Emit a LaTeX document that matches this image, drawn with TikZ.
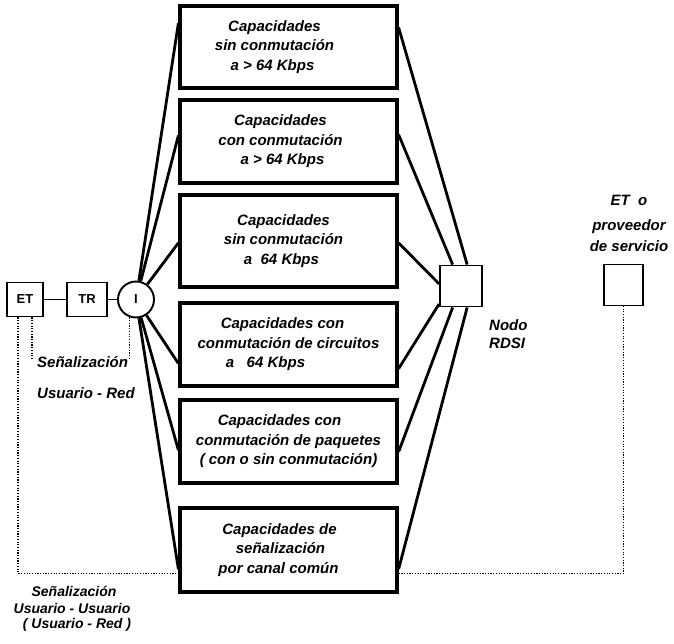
\documentclass[tikz,border=0pt]{standalone}
\usepackage{fontspec}
\setmainfont{Liberation Sans}
\usetikzlibrary{calc}
\newcommand{\lsh}[1]{\rule{#1}{0pt}}
\begin{document}
\begin{tikzpicture}[x=1pt,y=-1pt,
  capbox/.style={draw, line width=3.2pt, minimum width=217pt, align=center, inner sep=0pt,
    font=\fontsize{15}{19.5}\selectfont\bfseries\itshape},
  smallbox/.style={draw, line width=1.9pt, inner sep=0pt, font=\fontsize{13}{15}\selectfont\bfseries},
  fan/.style={line width=2.8pt},
  link/.style={line width=1.8pt},
  sig/.style={line width=1.3pt, dash pattern=on 1.2pt off 1.5pt},
  lbl/.style={font=\fontsize{15}{18}\selectfont\bfseries\itshape, inner sep=0pt},
  lblsm/.style={font=\fontsize{14}{17}\selectfont\bfseries\itshape, inner sep=0pt}
]
\useasboundingbox (0,0) rectangle (674,644);
\fill[white] (0,0) rectangle (674,644);

% capability boxes
\node[capbox, minimum height=82pt] (b1) at (288.5,47) {Capacidades\lsh{28pt}\\sin conmutación\lsh{28pt}\\a > 64 Kbps\lsh{32pt}};
\node[capbox, minimum height=83pt] (b2) at (288.5,141.5) {Capacidades\lsh{16pt}\\con conmutación\lsh{16pt}\\a > 64 Kbps\lsh{12pt}};
\node[capbox, minimum height=92pt] (b3) at (288.5,241) {Capacidades\lsh{10pt}\\sin conmutación\lsh{10pt}\\a\ \ 64 Kbps\lsh{14pt}};
\node[capbox, minimum height=83pt] (b4) at (288.5,344.5) {Capacidades con\lsh{12pt}\\conmutación de circuitos\\a\ \ \ 64 Kbps\lsh{46pt}};
\node[capbox, minimum height=83pt] (b5) at (288.5,441.5) {Capacidades con\lsh{18pt}\\conmutación de paquetes\\( con o sin conmutación)};
\node[capbox, minimum height=84pt] (b6) at (288.5,550) {Capacidades de\lsh{18pt}\\señalización\lsh{16pt}\\por canal común\lsh{20pt}};

% small elements
\node[smallbox, minimum width=36pt, minimum height=34pt] (ET) at (25,299.5) {ET};
\node[smallbox, minimum width=40pt, minimum height=34pt] (TR) at (87,299.5) {TR};
\node[smallbox, circle, minimum size=36pt] (I) at (136,299.5) {I};
\node[smallbox, minimum width=42pt, minimum height=41pt] (N) at (461,286) {};
\node[smallbox, minimum width=39pt, minimum height=41pt] (R) at (623.5,285) {};

% solid links
\draw[link] (ET) -- (TR);
\draw[link] (TR) -- (I);
\draw[link] ($(N.east)+(0,5)$) -- ($(N.east)+(0,5)$ -| R.west);

% fan from I
\draw[fan] (I) -- ($(b1.north west)!0.22!(b1.south west)$);
\draw[fan] (I) -- ($(b2.north west)!0.43!(b2.south west)$);
\draw[fan] (I) -- ($(b3.north west)!0.52!(b3.south west)$);
\draw[fan] (I) -- ($(b4.north west)!0.72!(b4.south west)$);
\draw[fan] (I) -- ($(b5.north west)!0.60!(b5.south west)$);
\draw[fan] (I) -- ($(b6.north west)!0.72!(b6.south west)$);

% fan to node RDSI
\draw[fan] ($(b1.north east)!0.27!(b1.south east)$) -- ($(N.north west)!0.64!(N.north east)$);
\draw[fan] ($(b2.north east)!0.42!(b2.south east)$) -- ($(N.north west)!0.31!(N.north east)$);
\draw[fan] ($(b3.north east)!0.52!(b3.south east)$) -- ($(N.north west)!0.45!(N.south west)$);
\draw[fan] ($(b4.north east)!0.78!(b4.south east)$) -- ($(N.north west)!0.92!(N.south west)$);
\draw[fan] ($(b5.north east)!0.62!(b5.south east)$) -- ($(N.south west)!0.31!(N.south east)$);
\draw[fan] ($(b6.north east)!0.72!(b6.south east)$) -- ($(N.south west)!0.64!(N.south east)$);

% labels
\node[lbl, anchor=west] (l1) at (37,362) {Señalización};
\node[lbl, anchor=west] (l2) at (37,393) {Usuario - Red};
\node[lbl, anchor=west] (l3) at (489,325) {Nodo};
\node[lbl, anchor=west] (l4) at (489,343) {RDSI};
\node[lbl] (l5) at (629,200) {ET\ \ o};
\node[lbl] (l6) at (629,227) {proveedor};
\node[lbl] (l7) at (629,246) {de servicio};
\node[lblsm] (l8) at (74,591) {Señalización};
\node[lblsm] (l9) at (72,608) {Usuario - Usuario};
\node[lblsm] (l10) at (77,625) {( Usuario - Red )};

% dotted signalling paths
\draw[sig] ([xshift=7pt]ET.south) -- ([xshift=7pt,yshift=-3pt]ET.south |- l1.north);
\draw[sig] (I.250) -- ([yshift=-3pt]I.250 |- l1.north);
\draw[sig] ([xshift=-7pt]ET.south) |- ($(b6.north west)!0.77!(b6.south west)$);
\draw[sig] ($(b6.north east)!0.77!(b6.south east)$) -| (R.south);
\end{tikzpicture}
\end{document}
